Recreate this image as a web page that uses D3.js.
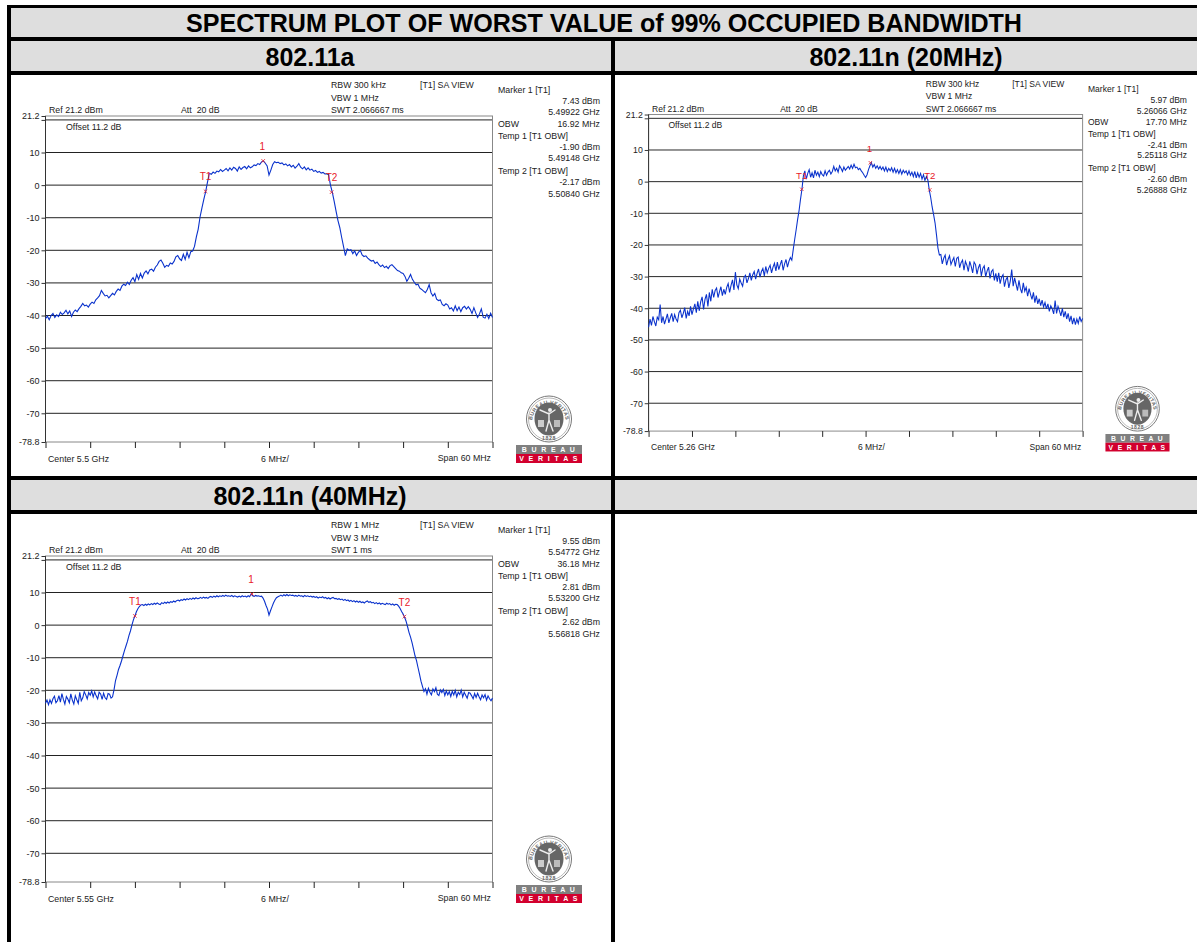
<!DOCTYPE html>
<html><head><meta charset="utf-8">
<script src="https://cdn.jsdelivr.net/npm/d3@7"></script>
<style>html,body{margin:0;padding:0;background:#fff;overflow:hidden}svg{display:block;font-family:"Liberation Sans",Arial,sans-serif}</style>
</head><body><svg id="c" width="1197" height="942"></svg>
<script>
const titleText = "SPECTRUM PLOT OF WORST VALUE of 99% OCCUPIED BANDWIDTH";
const panelNames = ["802.11a", "802.11n (20MHz)", "802.11n (40MHz)"];
const dbTicks = [21.2, 20, 10, 0, -10, -20, -30, -40, -50, -60, -70, -78.8];
const mhzTicks = [-30, -24, -18, -12, -6, 0, 6, 12, 18, 24, 30];

const traceA = [
-41,-40.2,-41.3,-40,-39.4,-40.6,-39.8,-40.3,-39,-39.7,-39.2,-38.4,-39.5,-38.6,-40.3,-39,-38.3,-38.8,-37.9,-37.2,-36.3,
-37,-36.8,-37.4,-36.5,-35.9,-36.3,-35.2,-34.6,-33.9,-32.3,-33.2,-34,-33.8,-34.6,-33.9,-33.2,-33.7,-32.6,-31.9,-32.3,
-31,-30.4,-30.8,-29.8,-30.5,-29.2,-28.4,-29.6,-27.4,-28.9,-27.1,-28.5,-27,-26.3,-27.2,-26,-25.8,-26.4,-25.2,-24.5,
-23.4,-23,-24,-25.2,-24.6,-24.9,-23.9,-24.2,-23.4,-22,-21.6,-22.6,-23.1,-21.2,-22.8,-20.6,-22.3,-20.4,-20.2,
-18.8,-15.9,-13.5,-9.7,-7,-4.4,-2,1,3.6,
3.3,4,3.6,4.3,4.1,4.8,4.2,4.6,5.1,4.4,5.3,4.6,5.5,5.1,4.3,5.6,4.8,5.4,5.7,5.0,5.9,5.3,5.6,6.2,6.0,6.6,6.3,7.1,
7.43,6.7,5.9,3.1,4.6,6.3,7.2,6.9,
7,6.6,6.8,6.2,6.5,5.9,6.3,5.6,6.1,5.2,5.8,6.6,5.5,5.0,5.6,4.7,5.3,4.6,4.9,4.2,4.5,3.9,4.2,3.7,3.9,3.4,3.5,
3.2,0,-2.2,-5,-8,-10.8,-13,-16,-18.8,-21.6,
-19.6,-20,-19.8,-21,-20.2,-21.6,-20.6,-20,-21.4,-21.9,-21.7,-22.4,-22.9,-23.3,-23.1,-24,-23.6,-24.4,-25,
-24.5,-25.3,-24.9,-25.6,-24.7,-24.4,-25,-25.6,-26.2,-26.4,-26.9,-27.1,-28,-29.5,-28.6,-27.4,-28.9,-29.8,-30.6,-30.4,
-31.6,-32,-32.5,-33,-32,-30.5,-33,-34,-33.2,-35,-35.4,-35.2,-36.6,-37,-36.4,-36.8,-38,-37.6,-38.6,-37,
-38.5,-37.4,-38.8,-37.6,-37.2,-38,-37.3,-38.1,-39.4,-37.6,-39.2,-40.6,-39.5,-38,-40.5,-40.8,-39.6,-40.9,-39.3,-40.6
];
const traceB = [
-46,-43.4,-45.4,-42.6,-44.2,-45.6,-42.8,-43.6,-38.8,-44.6,
-42.6,-45,-43.4,-41.8,-44.6,-43,-41.6,-44.2,-42,-43.4,
-44.2,-41.4,-40.6,-43,-41.6,-39.8,-43.2,-41,-42.4,-39.4,
-42,-40.2,-38.6,-41.4,-37.8,-40.8,-38,-36.4,-40.4,-37.2,
-35.6,-39.4,-35,-37.8,-34,
-36.6,-34.4,-33.6,-36.6,-34.8,-33.2,-36,-34,-35.6,-33.4,
-32.2,-35,-32.8,-31,-34.2,-28.6,-32.6,-33.8,-30.8,-32,
-33,-30.2,-29.6,-32,-30.6,-28.8,-31.2,-29.4,-28.4,-30.8,
-29,-27.6,-30.2,-28.4,-27.4,-29.8,-26.8,-28.8,-27.4,-26.4,
-28.8,-27,-25.8,-28.2,-25.4,-27.8,-26.2,-24.8,-28,-26,
-24.6,-27,-25.2,-24,-24.8,
-21.4,-18.2,-15.2,-12,-9.2,-5.6,-2.41,1.8,
3.4,0.8,2.6,3.8,1.4,2.8,1.2,3.6,2,3,
1.6,3.2,2.2,1.8,3.4,2,3,3.6,2.4,3.2,
4.8,3.4,4.2,3,5,4.2,3.2,4.6,3.6,4.2,
4.8,4,5.2,4.2,5.5,4.4,4.6,3.8,4.2,3.4,
2.8,2,
1.3,2.2,3.8,5,5.97,4.6,5.4,4.2,5,4,
4.8,3.8,4.6,3.4,4.6,3.2,4.2,3.4,4.4,3,
4.2,2.8,3.8,2.6,3.8,2.4,3.6,2.8,3.4,2.2,
3.4,2,3,1.6,3.2,1.2,2.8,1.4,2.6,0.8,
2.2,0.4,1.6,0.6,
-2.6,-5,-8,-10.4,-13,-16.8,-21,-23.2,
-23,-26,-24.2,-23.2,-26.4,-24.6,-23.4,-26.2,-25,-24,
-26.8,-24.2,-23.8,-27.2,-25.6,-24.8,-28,-25.2,-26.4,-28.4,
-25.2,-26.8,-28.8,-25.4,-26.2,-29.2,-27.2,-26,-29.8,-27.4,
-26.6,-30,-28.2,-27,-30.6,-28.4,-27.8,-31.2,-29,-31.6,
-28.8,-32.2,-30.2,-29.4,-33.2,-31,-30.2,-33.6,-31.4,-27.8,
-33,-30.4,-32.4,-34.4,-31.2,-33.8,-35.2,-32,-34.6,-33.4,
-36.2,-33.8,-35.6,-37.2,-35,-38.2,-36,-38.6,-37,-39.2,
-37.4,-39.6,-38.2,-40.2,-38.6,-41,-39.2,-40.2,-41.8,-37.6,
-41.6,-39.4,-40.8,-42.4,-40,-42.8,-41,-43.4,-41.6,-44.2,
-42.4,-45,-43,-45.2,-43.4,-44.8,-42.6,-44.2,-43.2
];
const traceC = [
-24,-23,-24.4,-22.9,-24,-22.6,-21.8,-23.8,-23.2,-21.6,-23.6,-21,-22.8,-24.2,-21.9,-22.7,-23.8,-21.1,-23,-24.2,-21.7,-22.9,-24,-20.6,-23.2,-22.3,-20.4,-21.4,-22.6,-20.7,-21.5,-20.2,-22,-20.5,-21.7,-22.6,-20.6,-21.1,-22.8,-20.9,-22.3,-22.8,-21,-21.2,-22.4,
-22,-19.8,-17,-15.4,-13.6,-12.4,-11,-9.4,-7.8,-6.4,-5,-3.2,-1.8,0,1.6,2.81,4.1,5,5.7,6.2,
6.3,6.0,6.4,6.1,6.5,6.2,6.6,6.3,6.7,6.4,
6.8,6.5,6.3,6.9,6.6,7,6.7,7.1,6.8,7.2,
7,7.4,7.1,7.5,7.7,7.4,7.8,7.6,8,7.7,
8.1,7.8,8.2,7.9,8.3,8,8.4,8.1,8.2,8.5,
8.2,8.6,8.3,8.5,8.2,8.6,8.8,8.5,8.9,8.6,
9,8.7,9,8.8,9.1,8.8,9.2,8.9,9,8.8,
9.1,8.7,9,8.8,8.6,8.9,8.6,9,8.7,8.9,8.6,
9,8.7,9.55,9,8.8,9.1,8.9,9,8.8,8.9,8.3,7.3,6,4.9,3.1,4.4,5.6,6.8,7.7,8.4,
8.7,8.9,9.2,8.9,9.3,9,9.4,9,9.3,9.1,
9.2,8.9,9.1,8.8,9.2,8.9,9,8.7,9.1,8.8,
9,8.7,8.9,8.6,8.8,8.5,8.7,8.3,8.6,8.4,
8.7,8.3,8.5,8.1,8.4,8.0,8.3,8.5,8.1,8.2,
7.9,8.1,7.8,8,7.6,7.9,7.5,7.7,7.3,7.6,
7.2,7.5,7.1,7.4,7,7.3,6.9,7.1,6.8,7.2,
7.4,7,7.2,6.8,7,6.6,6.9,6.5,6.8,6.4,
6.7,6.5,6.3,6.7,6.4,6.6,6.2,6.5,6.1,6.4,
6.3,
5.8,5.1,4.2,3.4,2.4,1.2,-0.5,-2.3,-3.7,-5.4,-7.4,-9.4,-10.9,-13,-15,-17.2,-18.8,
-20.4,-19.5,-21.2,-19.4,-20.6,-21.4,-19.6,-20.4,-19.2,-21.2,
-21.6,-19.9,-20.7,-19.7,-21.6,-20.2,-21.4,-20.4,-21.9,-20.3,
-21.4,-20,-22,-20.6,-21.3,-19.9,-22,-20.6,-21.5,-22.4,
-20.7,-20.9,-21.7,-22.6,-21,-22.2,-20.9,-22,-22.9,-21.4,
-22.3,-21.3,-23,-21.7,-22.6,-23.2,-22.4
];

const markerOffsets = [[-0.78,-8.52,8.4],[0.66,-8.82,8.88],[-2.28,-18,18.18]];
const markerLevels = [[7.43,-1.9,-2.17],[5.97,-2.41,-2.6],[9.55,2.81,2.62]];
const markerNames = ["1","T1","T2"];
const centers = ["Center 5.5 GHz","Center 5.26 GHz","Center 5.55 GHz"];
const settings = [
  ["RBW 300 kHz","VBW 1 MHz","SWT 2.066667 ms"],
  ["RBW 300 kHz","VBW 1 MHz","SWT 2.066667 ms"],
  ["RBW 1 MHz","VBW 3 MHz","SWT 1 ms"]];
const readouts = [
  ["7.43 dBm","5.49922 GHz","16.92 MHz","-1.90 dBm","5.49148 GHz","-2.17 dBm","5.50840 GHz"],
  ["5.97 dBm","5.26066 GHz","17.70 MHz","-2.41 dBm","5.25118 GHz","-2.60 dBm","5.26888 GHz"],
  ["9.55 dBm","5.54772 GHz","36.18 MHz","2.81 dBm","5.53200 GHz","2.62 dBm","5.56818 GHz"]];
const traces = [traceA, traceB, traceC];
const placements = ["translate(0,0)","translate(604.4,1.9) scale(0.971)","translate(0,440)"];

const svg = d3.select("#c");
const bands = [[11,8,1186,29],[11,41,600,30],[615,41,582,30],[11,480,600,30],[615,480,582,30]];
svg.selectAll("rect.band").data(bands).join("rect").attr("class","band")
  .attr("x",d=>d[0]).attr("y",d=>d[1]).attr("width",d=>d[2]).attr("height",d=>d[3]).attr("fill","#dedede");
const bars = [[7,5,1190,3],[7,37,1190,4],[7,71,1190,4],[7,476,1190,4],[7,510,1190,4],[7,5,4,937],[611,37,4,905]];
svg.selectAll("rect.bar").data(bars).join("rect").attr("class","bar")
  .attr("x",d=>d[0]).attr("y",d=>d[1]).attr("width",d=>d[2]).attr("height",d=>d[3]).attr("fill","#000");
const head = (t,x,y,size)=>svg.append("text").text(t).attr("x",x).attr("y",y).attr("text-anchor","middle")
  .attr("font-weight","bold").attr("font-size",size).attr("fill","#000");
head(titleText,604,32,25.1);
head(panelNames[0],310,66,25);
head(panelNames[1],906,66,25);
head(panelNames[2],310,505,25);

const x = d3.scaleLinear().domain([-30,30]).range([45.5,492.5]);
const y = d3.scaleLinear().domain([21.2,-78.8]).range([116,442]);
const line = d3.line().x((d,i,a)=>x(-30+60*i/(a.length-1))).y(d=>y(d));

function logo(g){
  const cx=549, cy=419;
  const defs=g.append("defs");
  const id="ring"+g.attr("data-i");
  defs.append("path").attr("id",id).attr("d",`M${cx-17},${cy+4} A17,19 0 1 1 ${cx+17},${cy+4}`);
  g.append("ellipse").attr("cx",cx).attr("cy",cy).attr("rx",22.5).attr("ry",23).attr("fill","#fff").attr("stroke","#777").attr("stroke-width",1);
  g.append("ellipse").attr("cx",cx).attr("cy",cy).attr("rx",20.5).attr("ry",21).attr("fill","none").attr("stroke","#999").attr("stroke-width",.7);
  g.append("text").attr("font-size",5.2).attr("font-weight","bold").attr("fill","#666").attr("letter-spacing",.35)
    .append("textPath").attr("href","#"+id).attr("startOffset","50%").attr("text-anchor","middle").text("BUREAU VERITAS");
  g.append("text").text("1828").attr("x",cx).attr("y",cy+21).attr("text-anchor","middle").attr("font-size",5.2).attr("font-weight","bold").attr("fill","#666").attr("letter-spacing",.6);
  g.append("ellipse").attr("cx",cx).attr("cy",cy).attr("rx",14.5).attr("ry",16.5).attr("fill","#666");
  g.append("path").attr("fill","none").attr("stroke","#eee").attr("stroke-width",1.4).attr("stroke-linecap","round")
    .attr("d",`M${cx-3},${cy+12} L${cx},${cy+1} L${cx+4},${cy+12} M${cx},${cy+1} L${cx},${cy-6} M${cx-9},${cy-9} L${cx},${cy-5} L${cx+6},${cy-9}`);
  g.append("circle").attr("cx",cx+1).attr("cy",cy-9).attr("r",2).attr("fill","#eee");
  g.append("rect").attr("x",cx-11).attr("y",cy+1).attr("width",6).attr("height",7).attr("fill","#ccc");
  g.append("rect").attr("x",cx+5).attr("y",cy+1).attr("width",6).attr("height",7).attr("fill","#bbb");
  g.append("rect").attr("x",516).attr("y",445).attr("width",66).attr("height",9).attr("fill","#808080");
  g.append("rect").attr("x",516).attr("y",454).attr("width",66).attr("height",9).attr("fill","#d2002e");
  [["B U R E A U",452.3],["V E R I T A S",461.3]].forEach(t=>g.append("text").text(t[0]).attr("x",549).attr("y",t[1])
    .attr("text-anchor","middle").attr("font-size",7).attr("font-weight","bold").attr("fill","#fff").attr("letter-spacing",1.4));
}

traces.forEach((values,i)=>{
  const g = svg.append("g").attr("data-i",i).attr("transform",placements[i]);
  g.append("g").attr("stroke","#222").selectAll("line").data(dbTicks.slice(1,-1)).join("line")
    .attr("x1",x(-30)).attr("x2",x(30)).attr("y1",d=>y(d)).attr("y2",d=>y(d));
  g.append("rect").attr("x",x(-30)).attr("y",y(21.2)).attr("width",x(30)-x(-30)).attr("height",y(-78.8)-y(21.2))
    .attr("fill","none").attr("stroke","#888");
  g.append("line").attr("x1",x(-30)).attr("x2",x(-30)).attr("y1",y(21.2)).attr("y2",y(-78.8)).attr("stroke","#333");

  const ya = g.append("g").attr("transform",`translate(${x(-30)},0)`)
    .call(d3.axisLeft(y).tickValues(dbTicks).tickSize(4).tickFormat(d=>d===20?"":d));
  ya.select(".domain").remove();
  ya.selectAll("text").attr("font-family","inherit").attr("font-size",9).attr("fill","#222").attr("dx",1);
  ya.selectAll("line").attr("stroke","#333");
  const xa = g.append("g").attr("transform",`translate(0,${y(-78.8)})`)
    .call(d3.axisBottom(x).tickValues(mhzTicks).tickSize(6).tickFormat(""));
  xa.select(".domain").remove();
  xa.selectAll("line").attr("stroke","#222");

  g.append("path").datum(values).attr("d",line).attr("fill","none").attr("stroke","#0a32cc").attr("stroke-width",1.1);

  const small = (t,px,py,anchor)=>g.append("text").text(t).attr("x",px).attr("y",py)
    .attr("font-size",8.8).attr("fill","#222").attr("text-anchor",anchor||"start");
  small("Ref 21.2 dBm",49,113); small("Att  20 dB",181,113).attr("xml:space","preserve");
  settings[i].forEach((t,k)=>small(t,331,88+k*12.5));
  small("[T1] SA VIEW",420,88);
  small("Offset 11.2 dB",66,130);
  small(centers[i],48,462); small("6 MHz/",275,462,"middle"); small("Span 60 MHz",491,461,"end");
  small("Marker 1 [T1]",498,93);
  small("OBW",498,127);
  small("Temp 1 [T1 OBW]",498,139);
  small("Temp 2 [T1 OBW]",498,174);
  [104,115,127,150,161,185,197].forEach((py,k)=>small(readouts[i][k],600,py,"end"));

  const red = g.append("g").attr("fill","#e8202a");
  markerOffsets[i].forEach((m,k)=>{
    const px=x(m), py=y(markerLevels[i][k]);
    red.append("path").attr("d",d3.symbol(d3.symbolX,10)()).attr("transform",`translate(${px},${py})`)
      .attr("fill","none").attr("stroke","#e8202a").attr("stroke-width",.8);
    red.append("text").text(markerNames[k]).attr("x",px+(k===0?-1:0)).attr("y",py-11).attr("text-anchor","middle").attr("font-size",10);
  });
  logo(g);
});
</script></body></html>
